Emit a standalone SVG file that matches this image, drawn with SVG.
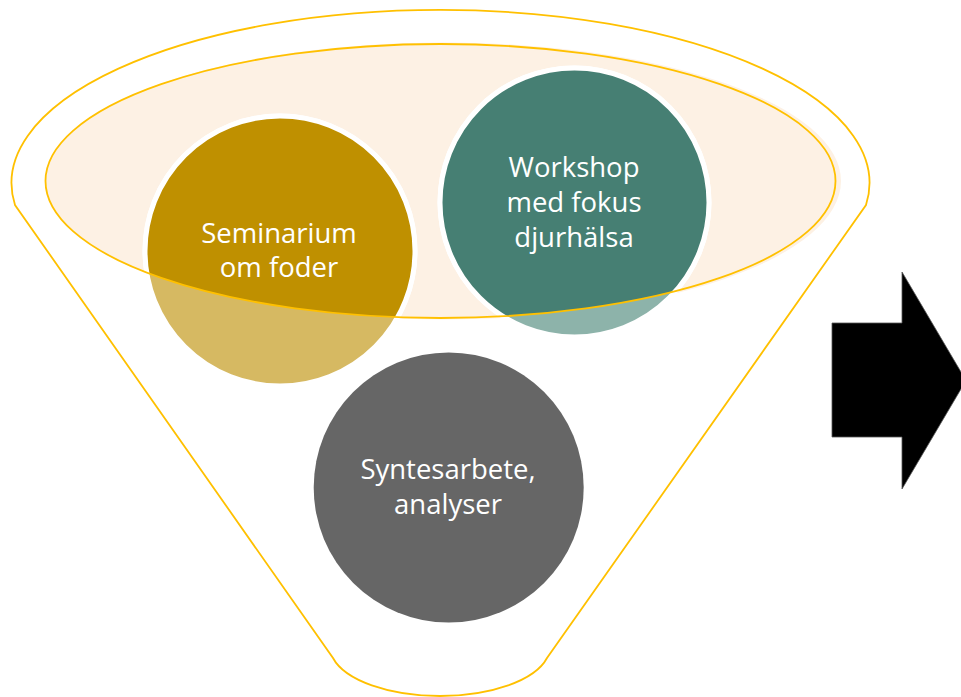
<svg xmlns="http://www.w3.org/2000/svg" width="961" height="697" viewBox="0 0 961 697">
<defs>
<style>
.funnel{fill:none;stroke:#FFC000;stroke-width:1.8}
.lbl{font-family:"Open Sans","Liberation Sans",sans-serif;font-size:27.5px;fill:#FFFFFF;text-anchor:middle}
.ring{stroke:#FFFFFF;stroke-width:5}
</style>
<clipPath id="inner"><ellipse cx="440.5" cy="181" rx="395" ry="137"/></clipPath>
</defs>
<rect width="961" height="697" fill="#FFFFFF"/>
<g id="funnel">
<path class="funnel" d="M15,205 A429,173 0 1 1 866,205 L547,658 A110,49.5 0 0 1 333,658 Z"/>
<ellipse cx="443.5" cy="181" rx="397.5" ry="138.5" fill="#FDF1E4"/>
</g>
<g id="node-seminarium">
<circle cx="280" cy="251" r="135" fill="#D6B962" class="ring"/>
<circle cx="280" cy="251" r="135" fill="#BF9000" class="ring" clip-path="url(#inner)"/>
</g>
<g id="node-workshop">
<circle cx="574.5" cy="202.5" r="134.5" fill="#8DB3AA" class="ring"/>
<circle cx="574.5" cy="202.5" r="134.5" fill="#467F73" class="ring" clip-path="url(#inner)"/>
</g>
<g id="node-syntes">
<circle cx="448.7" cy="487.5" r="135" fill="#666666"/>
</g>
<g id="rim">
<ellipse cx="440.5" cy="181" rx="395" ry="137" class="funnel"/>
</g>
<g id="labels">
<text class="lbl" x="279" y="243">Seminarium</text>
<text class="lbl" x="279" y="277">om foder</text>
<text class="lbl" x="574" y="177">Workshop</text>
<text class="lbl" x="574" y="212">med fokus</text>
<text class="lbl" x="574" y="247">djurhälsa</text>
<text class="lbl" x="448" y="479">Syntesarbete,</text>
<text class="lbl" x="448" y="514">analyser</text>
</g>
<g id="connectors">
<polygon points="832,323 902,323 902,272 966,380.5 902,489 902,437 832,437" fill="#000000" stroke="#555555" stroke-width="0.8"/>
</g>
</svg>
